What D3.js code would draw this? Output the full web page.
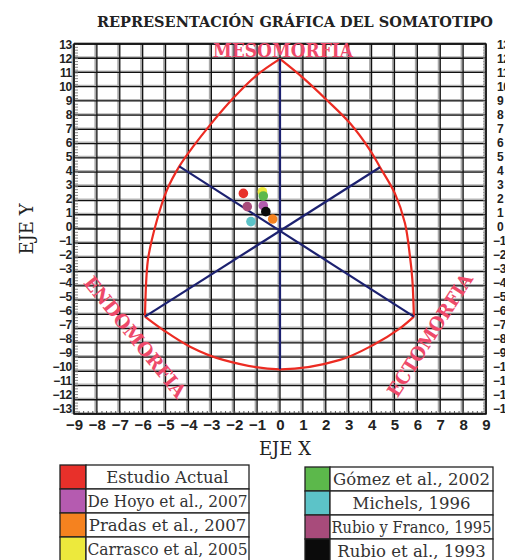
<!DOCTYPE html>
<html>
<head>
<meta charset="utf-8">
<script src="https://cdn.jsdelivr.net/npm/d3@7"></script>
<style>
  body { margin: 0; background: #fff; }
  svg { display: block; }
</style>
</head>
<body>
<div id="chart"></div>
<script>
// estudios y valores (x, y) del somatotipo medio
let studies = ["Estudio Actual", "De Hoyo et al., 2007", "Pradas et al., 2007", "Carrasco et al, 2005",
               "Gómez et al., 2002", "Michels, 1996", "Rubio y Franco, 1995", "Rubio et al., 1993"]
let colors = ["#e8302a", "#b55bb0", "#f5821f", "#ede93c", "#5cb84b", "#5cc3c8", "#a84b7b", "#0b0b0b"]
let xVals = [-1.60, -0.73, -0.32, -0.77, -0.73, -1.27, -1.43, -0.62]
let yVals = [ 2.50,  1.64,  0.70,  2.62,  2.32,  0.52,  1.57,  1.22]

// contorno de la somatocarta
let leftArc = [[0, 11.95], [-1.02, 10.8], [-2.04, 9.2], [-3.06, 7.3], [-3.79, 5.8], [-4.4, 4.4],
               [-4.95, 2.7], [-5.38, 0.6], [-5.75, -1.95], [-5.84, -3.5], [-5.9, -6.16]]
let bottomArc = [[-5.9, -6.16], [-5.1, -7.1], [-3.93, -8.27], [-2.48, -9.2], [0, -9.86],
                 [2.62, -9.2], [4.07, -8.15], [5.24, -6.98], [5.85, -6.16]]
let rightArc = [[5.85, -6.16], [5.78, -3.5], [5.68, -1.95], [5.46, 0.4], [5.02, 2.5], [4.37, 4.34],
                [3.93, 5.55], [3.06, 7.43], [2.04, 9.07], [1.02, 10.6], [0, 11.95]]
let axisLines = [
  [[0, 11.95], [0, -9.86]],
  [[-5.9, -6.16], [4.37, 4.34]],
  [[5.85, -6.16], [-4.4, 4.4]]
]

let xTicks = d3.range(-9, 10)
let yTicks = d3.range(-13, 14)

let makeChart = function() {
  const width = 505, height = 560;

  let svg = d3.select('#chart')
    .append('svg')
      .attr('width', width)
      .attr('height', height)

  let x = d3.scaleLinear().domain([-9, 9]).range([74, 486])
  let y = d3.scaleLinear().domain([-13, 13]).range([414, 44])
  // los rotulos del eje Y van algo desplazados respecto a la reticula
  let yLab = d3.scaleLinear().domain([-13, 13]).range([409, 45])

  // titulo
  svg.append('text')
    .attr('x', 295).attr('y', 27)
    .attr('text-anchor', 'middle')
    .style('font-family', 'DejaVu Serif')
    .style('font-size', '15px')
    .style('font-weight', 'bold')
    .attr('fill', '#222')
    .attr('textLength', 396)
    .attr('lengthAdjust', 'spacingAndGlyphs')
    .text('REPRESENTACIÓN GRÁFICA DEL SOMATOTIPO')

  // reticula
  let grid = svg.append('g')
  grid.selectAll('.vh').data(xTicks).enter().append('line')
    .attr('x1', d => x(d) - 1.5).attr('x2', d => x(d) - 1.5)
    .attr('y1', y(13)).attr('y2', y(-13))
    .attr('stroke', '#aaa').attr('stroke-width', 2)
  grid.selectAll('.hh').data(yTicks).enter().append('line')
    .attr('y1', d => y(d) - 1).attr('y2', d => y(d) - 1)
    .attr('x1', x(-9)).attr('x2', x(9))
    .attr('stroke', '#b5b5b5').attr('stroke-width', 2)
  grid.selectAll('.v').data(xTicks).enter().append('line')
    .attr('x1', d => x(d)).attr('x2', d => x(d))
    .attr('y1', y(13)).attr('y2', y(-13))
    .attr('stroke', '#111').attr('stroke-width', 1.3)
  grid.selectAll('.h').data(yTicks).enter().append('line')
    .attr('y1', d => y(d)).attr('y2', d => y(d))
    .attr('x1', x(-9)).attr('x2', x(9))
    .attr('stroke', '#111').attr('stroke-width', 1.3)

  // marcas menores en los bordes
  grid.append('g')
    .attr('transform', `translate(0,${y(-13)})`)
    .call(d3.axisTop(x).ticks(90).tickSize(3).tickFormat(''))
    .call(g => g.select('.domain').remove())
    .selectAll('line').attr('stroke', '#555')
  grid.append('g')
    .attr('transform', `translate(${x(-9)},0)`)
    .call(d3.axisRight(y).ticks(130).tickSize(4).tickFormat(''))
    .call(g => g.select('.domain').remove())
    .selectAll('line').attr('stroke', '#888')
  grid.append('g')
    .attr('transform', `translate(${x(9)},0)`)
    .call(d3.axisLeft(y).ticks(130).tickSize(3).tickFormat(''))
    .call(g => g.select('.domain').remove())
    .selectAll('line').attr('stroke', '#999')

  svg.append('rect')
    .attr('x', x(-9)).attr('y', y(13))
    .attr('width', x(9) - x(-9)).attr('height', y(-13) - y(13))
    .attr('fill', 'none').attr('stroke', '#111').attr('stroke-width', 1.5)

  // ejes con rotulos
  let tickFont = size => g => g.selectAll('text')
    .style('font-family', 'Liberation Sans')
    .style('font-size', size)
    .style('font-weight', 'bold')
    .attr('fill', '#222')

  svg.append('g')
    .attr('transform', `translate(0,${y(-13)})`)
    .call(d3.axisBottom(x).tickValues(xTicks).tickSize(0).tickPadding(5))
    .call(g => g.select('.domain').remove())
    .call(tickFont('15px'))

  svg.append('g')
    .attr('transform', 'translate(72,0)')
    .call(d3.axisLeft(yLab).tickValues(yTicks).tickSize(0).tickPadding(0))
    .call(g => g.select('.domain').remove())
    .call(tickFont('12px'))
    .selectAll('text').attr('letter-spacing', '-0.3px')

  svg.append('g')
    .attr('transform', 'translate(497,0)')
    .call(d3.axisRight(yLab).tickValues(yTicks).tickSize(0).tickPadding(0))
    .call(g => g.select('.domain').remove())
    .call(tickFont('12px'))
    .selectAll('text')
      .attr('letter-spacing', '-0.3px')
      .attr('x', d => d < 0 ? -4 : 0)

  // contorno
  let line = d3.line()
    .x(d => x(d[0]))
    .y(d => y(d[1]))
    .curve(d3.curveCatmullRom.alpha(0.5))

  svg.selectAll('.arc')
    .data([leftArc, bottomArc, rightArc])
    .enter()
    .append('path')
      .attr('d', line)
      .attr('fill', 'none')
      .attr('stroke', '#ec2b22')
      .attr('stroke-width', 2.2)

  svg.selectAll('.axl')
    .data(axisLines)
    .enter()
    .append('path')
      .attr('d', d3.line().x(d => x(d[0])).y(d => y(d[1])))
      .attr('stroke', '#1c2170')
      .attr('stroke-width', 2.2)

  // etiquetas de los componentes
  let compLabel = function(txt, cx, cy, angle, len) {
    svg.append('text')
      .attr('transform', `translate(${cx},${cy}) rotate(${angle})`)
      .attr('text-anchor', 'middle')
      .attr('dy', '0.35em')
      .style('font-family', 'DejaVu Serif')
      .style('font-size', '19px')
      .style('font-weight', 'bold')
      .attr('fill', '#ee4a6a')
      .attr('textLength', len)
      .attr('lengthAdjust', 'spacingAndGlyphs')
      .text(txt)
  }
  compLabel('MESOMORFIA', 283, 50, 0, 140)
  compLabel('ENDOMORFIA', 135, 337, 51, 150)
  compLabel('ECTOMORFIA', 430, 335, -57.5, 142)

  // puntos
  svg.selectAll('.pt')
    .data(studies)
    .enter()
    .append('circle')
      .attr('cx', (d, i) => x(xVals[i]))
      .attr('cy', (d, i) => y(yVals[i]))
      .attr('r', 4.8)
      .attr('fill', (d, i) => colors[i])

  // titulos de ejes
  svg.append('text')
    .attr('x', 285).attr('y', 455)
    .attr('text-anchor', 'middle')
    .style('font-family', 'DejaVu Serif')
    .style('font-size', '18px')
    .attr('fill', '#222')
    .text('EJE X')

  svg.append('text')
    .attr('transform', 'translate(33,229) rotate(-90)')
    .attr('text-anchor', 'middle')
    .style('font-family', 'DejaVu Serif')
    .style('font-size', '18px')
    .attr('fill', '#222')
    .text('EJE Y')

  // leyenda
  let boxes = [
    {left: 60, sw: 26, right: 249, top: 465, items: d3.range(0, 4)},
    {left: 305, sw: 25, right: 493, top: 467, items: d3.range(4, 8)}
  ]
  const rowH = 24
  boxes.forEach(b => {
    let g = svg.append('g')
    g.selectAll('rect.sw')
      .data(b.items)
      .enter()
      .append('rect')
        .attr('x', b.left)
        .attr('y', (d, j) => b.top + j * rowH)
        .attr('width', b.sw)
        .attr('height', rowH)
        .attr('fill', d => colors[d])
        .attr('stroke', '#222')
        .attr('stroke-width', 1.3)
    g.selectAll('rect.cell')
      .data(b.items)
      .enter()
      .append('rect')
        .attr('x', b.left + b.sw)
        .attr('y', (d, j) => b.top + j * rowH)
        .attr('width', b.right - b.left - b.sw)
        .attr('height', rowH)
        .attr('fill', '#fff')
        .attr('stroke', '#222')
        .attr('stroke-width', 1.3)
    g.selectAll('text')
      .data(b.items)
      .enter()
      .append('text')
        .attr('x', (b.left + b.sw + b.right) / 2)
        .attr('y', (d, j) => b.top + j * rowH + rowH / 2)
        .attr('dy', '0.35em')
        .attr('text-anchor', 'middle')
        .style('font-family', 'DejaVu Serif')
        .style('font-size', '16.5px')
        .attr('fill', '#333')
        .text(d => studies[d])
        .each(function() {
          let maxW = b.right - b.left - b.sw - 3
          if (this.getComputedTextLength() > maxW) {
            d3.select(this).attr('textLength', maxW).attr('lengthAdjust', 'spacingAndGlyphs')
          }
        })
  })
}

makeChart()
</script>
</body>
</html>
